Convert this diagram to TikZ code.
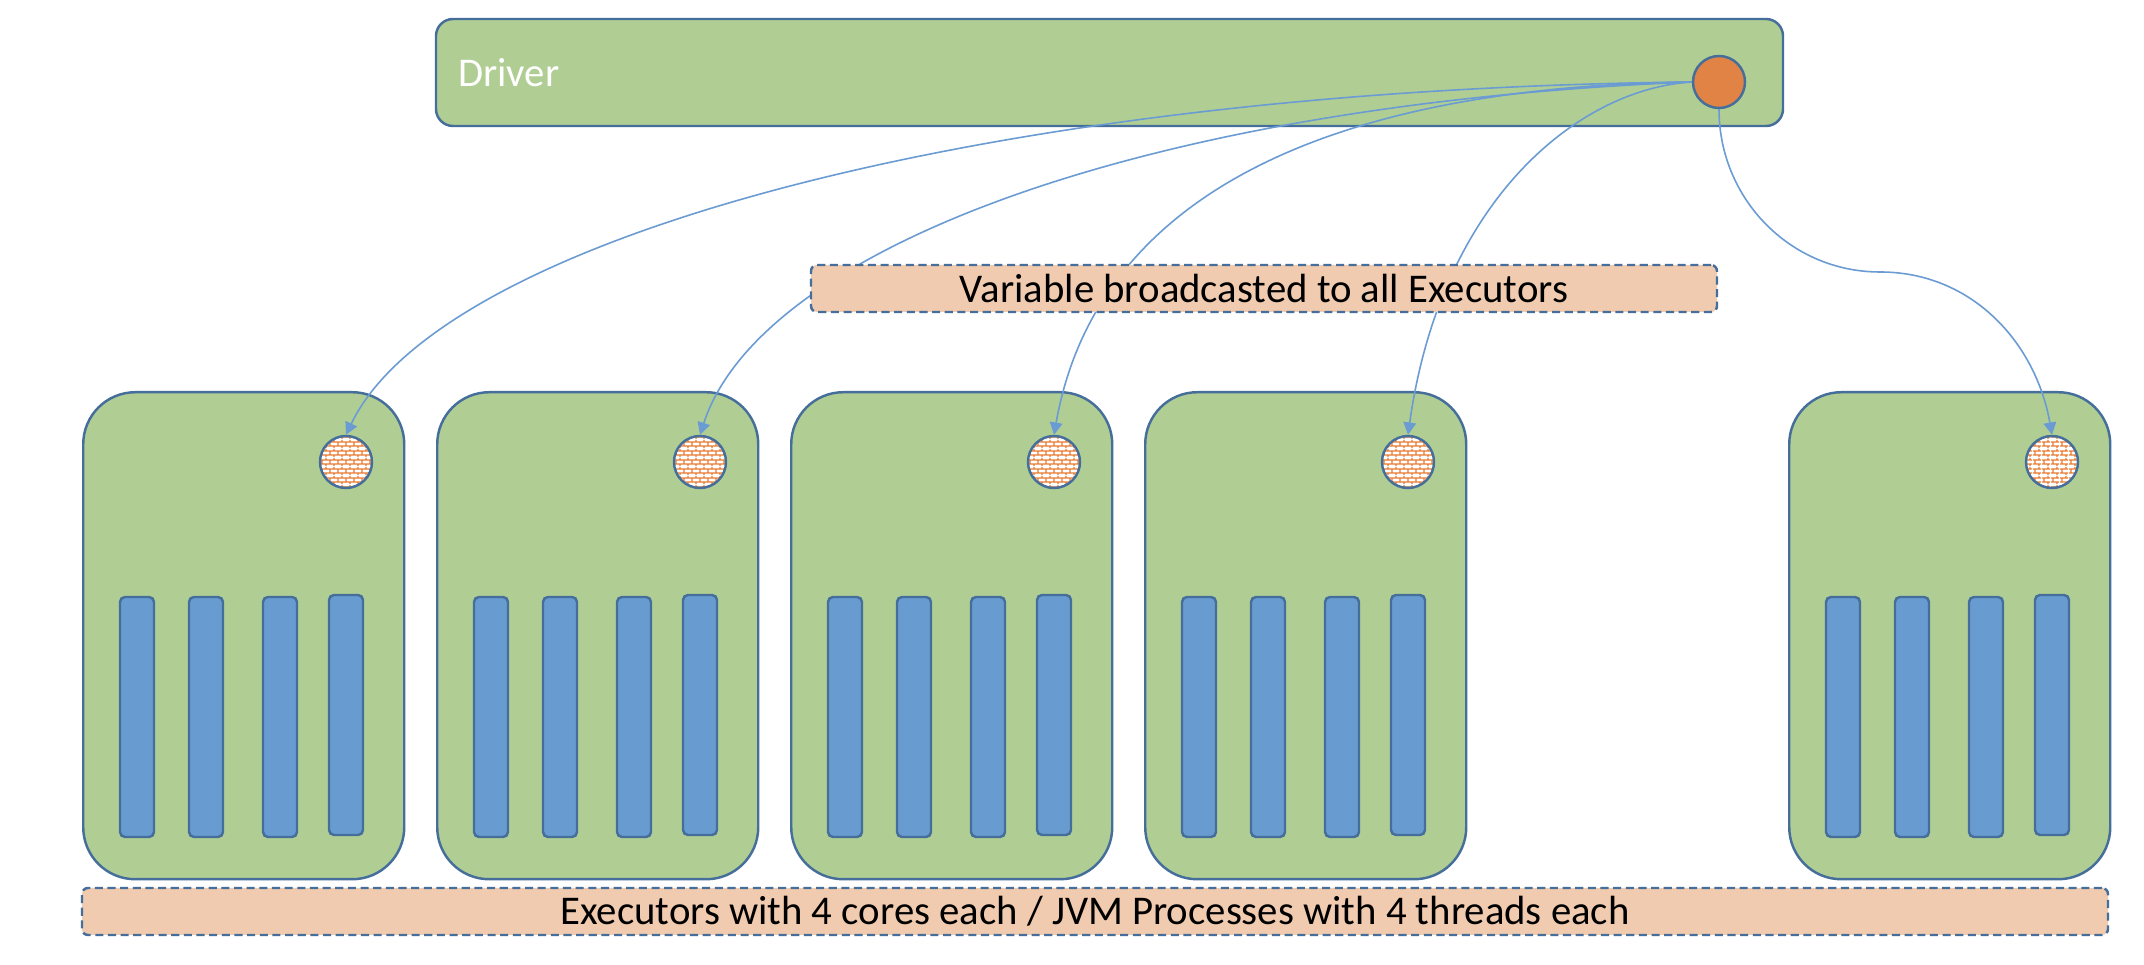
\documentclass[tikz,border=0pt]{standalone}
\usepackage{fontspec}
\setmainfont{Carlito}
\usepackage{tikz}
\usetikzlibrary{positioning}
\usetikzlibrary{arrows.meta,shapes}
\usetikzlibrary{patterns.meta}
\usetikzlibrary{calc}
\definecolor{boxgreen}{RGB}{176,206,148}
\definecolor{edgeblue}{RGB}{70,110,155}
\definecolor{coreblue}{RGB}{104,155,207}
\definecolor{varorange}{RGB}{224,131,69}
\definecolor{notefill}{RGB}{240,203,175}
\definecolor{wireblue}{RGB}{106,155,210}
\definecolor{brickorange}{RGB}{232,122,48}
\tikzdeclarepattern{name=smallbricks, type=uncolored,
  bounding box={(0,0) and (2.4pt,2.4pt)}, tile size={(2.4pt,2.4pt)},
  code={
    \draw[line width=0.35pt] (0,0.6pt) -- (2.4pt,0.6pt) (0,1.8pt) -- (2.4pt,1.8pt)
      (0.6pt,0.6pt) -- (0.6pt,1.8pt) (1.8pt,1.8pt) -- (1.8pt,2.4pt) (1.8pt,0pt) -- (1.8pt,0.6pt);
  }}
\tikzstyle{driverbox}=[rectangle,rounded corners=0.17cm,fill=boxgreen,draw=edgeblue,line width=0.7pt]
\tikzstyle{execbox}=[rectangle,rounded corners=0.52cm,fill=boxgreen,draw=edgeblue,line width=0.7pt,minimum width=3.21cm,minimum height=4.87cm,inner sep=0pt]
\tikzstyle{core}=[rectangle,rounded corners=0.05cm,fill=coreblue,draw=edgeblue,line width=0.7pt,minimum width=0.34cm,minimum height=2.40cm,inner sep=0pt]
\tikzstyle{bcast}=[circle,preaction={fill=white},pattern=smallbricks,pattern color=brickorange,draw=edgeblue,line width=0.7pt,minimum size=0.52cm,inner sep=0pt]
\tikzstyle{notebox}=[rectangle,rounded corners=0.06cm,fill=notefill,draw=edgeblue,line width=0.7pt,dash pattern=on 2.3pt off 1.3pt,minimum height=0.47cm,inner sep=0pt,font=\fontsize{11.6}{13}\selectfont]
\tikzstyle{wire}=[draw=wireblue,line width=0.45pt,-{Triangle[length=3.5pt,width=3.6pt]}]

\begin{document}
\begin{tikzpicture}[x=1cm,y=1cm]

   \path[fill=white] (0,0) rectangle (21.44,-9.65);

   \node[driverbox, minimum width=13.47cm, minimum height=1.07cm, text width=13.03cm, align=left, inner xsep=0.22cm, inner ysep=0pt, text=white, font=\fontsize{11.6}{13}\selectfont] (drv) at (11.095,-0.725) {Driver};
   \node[circle, fill=varorange, draw=edgeblue, line width=0.7pt, minimum size=0.52cm, inner sep=0pt] (var) at (17.19,-0.82) {};

    \foreach \x/\name in {0.82/e1, 4.36/e2, 7.90/e3, 11.44/e4, 17.88/e5} {
        \node[execbox, anchor=north west] (\name) at (\x,-3.91) {};
        \node[bcast] (\name v) at ($(\name.north west)+(2.64,-0.71)$) {};
        \foreach \dx/\dy/\k in {0.55/-3.26/1, 1.24/-3.26/2, 1.98/-3.26/3, 2.64/-3.24/4}
            \node[core] (\name c\k) at ($(\name.north west)+(\dx,\dy)$) {};
    }

   \draw[wire] (var.west) .. controls +(180.6:7.1) and +(64.4:2.17) .. (e1v.north);
   \draw[wire] (var.west) .. controls +(182.3:5.5) and +(72:1.95) .. (e2v.north);
   \draw[wire] (var.west) .. controls +(180.7:3.6) and +(80:2.45) .. (e3v.north);
   \draw[wire] (var.west) .. controls +(183.5:1.13) and +(82:2.38) .. (e4v.north);
   \coordinate (bend) at (18.80,-2.72);
   \draw[wire] (var.south) to[out=-90,in=180] (bend) to[out=0,in=100] (e5v.north);

  \node[notebox, minimum width=9.06cm] (vnote) at (12.64,-2.885) {Variable broadcasted to all Executors};
  \node[notebox, minimum width=20.26cm] (enote) at (10.95,-9.115) {Executors with 4 cores each / JVM Processes with 4 threads each};

\end{tikzpicture}
\end{document}
